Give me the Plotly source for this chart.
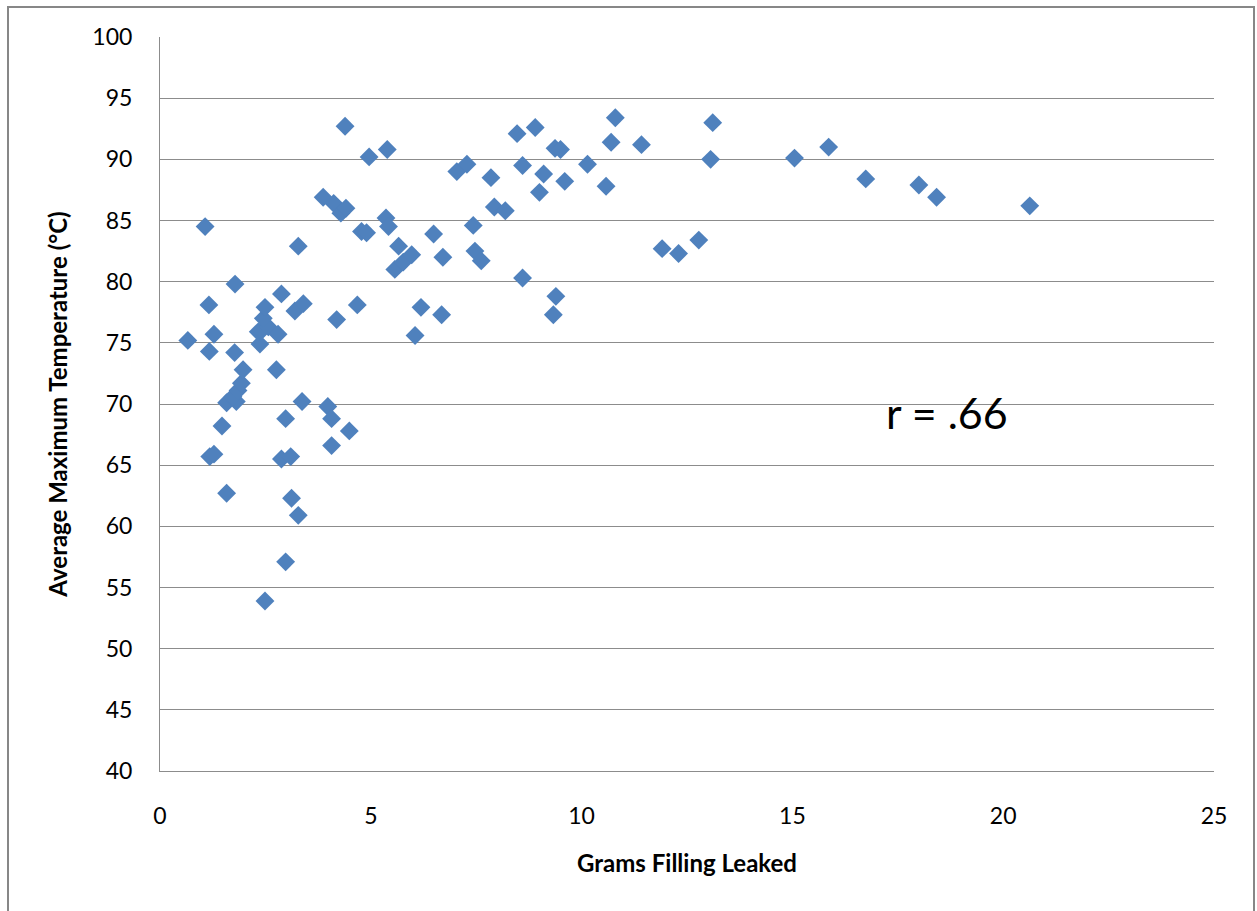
import plotly.graph_objects as go

# Grams of filling leaked vs. average maximum temperature (°C)
grams_leaked = [
    0.66, 1.07, 1.16, 1.28, 1.17, 1.18, 1.28, 1.47, 1.58, 1.58,
    1.78, 1.77, 1.81, 1.73, 1.85, 1.93, 1.97, 2.37, 2.33, 2.41,
    2.57, 2.45, 2.49, 2.49, 2.76, 2.80, 2.88, 2.88, 2.98, 2.98,
    3.10, 3.12, 3.28, 3.20, 3.40, 3.28, 3.37, 3.87, 3.98, 4.07,
    4.07, 4.12, 4.29, 4.41, 4.19, 4.39, 4.49, 4.68, 4.78, 4.90,
    4.96, 5.36, 5.42, 5.39, 5.57, 5.66, 5.77, 5.97, 6.05, 6.19,
    6.49, 6.68, 6.71, 7.04, 7.28, 7.43, 7.47, 7.62, 7.85, 7.93,
    8.19, 8.47, 8.60, 8.60, 8.90, 9.00, 9.10, 9.33, 9.37, 9.39,
    9.50, 9.60, 10.14, 10.58, 10.70, 10.80, 11.42, 11.91, 12.30, 12.78,
    13.06, 13.11, 15.05, 15.86, 16.74, 18.00, 18.42, 20.63,
]
avg_max_temp = [
    75.2, 84.5, 78.1, 75.7, 74.3, 65.7, 65.9, 68.2, 62.7, 70.1,
    79.8, 74.2, 70.2, 70.6, 71.1, 71.7, 72.8, 74.9, 75.9, 76.0,
    76.3, 77.0, 77.9, 53.9, 72.8, 75.7, 79.0, 65.5, 68.8, 57.1,
    65.7, 62.3, 60.9, 77.6, 78.2, 82.9, 70.2, 86.9, 69.8, 68.8,
    66.6, 86.4, 85.6, 86.0, 76.9, 92.7, 67.8, 78.1, 84.1, 84.0,
    90.2, 85.2, 84.5, 90.8, 81.0, 82.9, 81.6, 82.2, 75.6, 77.9,
    83.9, 77.3, 82.0, 89.0, 89.6, 84.6, 82.5, 81.7, 88.5, 86.1,
    85.8, 92.1, 89.5, 80.3, 92.6, 87.3, 88.8, 77.3, 90.9, 78.8,
    90.8, 88.2, 89.6, 87.8, 91.4, 93.4, 91.2, 82.7, 82.3, 83.4,
    90.0, 93.0, 90.1, 91.0, 88.4, 87.9, 86.9, 86.2,
]

x_ticks = [0, 5, 10, 15, 20, 25]
y_ticks = [40, 45, 50, 55, 60, 65, 70, 75, 80, 85, 90, 95, 100]
r_label = "r = .66"

FONT = "Lato, Calibri, 'Open Sans', sans-serif"
GRID = "#8c8c8c"

fig = go.Figure()
fig.add_trace(go.Scatter(
    x=grams_leaked,
    y=avg_max_temp,
    mode="markers",
    marker=dict(symbol="diamond", size=14.5, color="#4F81BD", line=dict(width=0)),
    showlegend=False,
))

fig.add_annotation(
    x=18.66, y=69.3, xref="x", yref="y",
    text=r_label, showarrow=False,
    font=dict(family=FONT, size=43, color="#000000"),
)

# outer chart border
fig.add_shape(
    type="rect", xref="paper", yref="paper",
    x0=(8 - 160) / 1054, x1=(1254 - 160) / 1054,
    y0=(771 - 915) / 734, y1=1 + (37 - 7) / 734,
    line=dict(color="#878787", width=2), fillcolor="rgba(0,0,0,0)",
    layer="below",
)

fig.update_layout(
    width=1257, height=911,
    margin=dict(l=160, r=43, t=37, b=140),
    paper_bgcolor="white", plot_bgcolor="white",
    font=dict(family=FONT, color="#000000"),
    xaxis=dict(
        range=[0, 25], tickvals=x_ticks, ticktext=[str(v) for v in x_ticks],
        showgrid=False, zeroline=False,
        showline=True, linecolor=GRID, linewidth=1,
        ticks="", ticklabelstandoff=24,
        tickfont=dict(family=FONT, size=23, color="#000000"),
        title=dict(text="<b>Grams Filling Leaked</b>", standoff=27,
                   font=dict(family=FONT, size=24, color="#000000")),
    ),
    yaxis=dict(
        range=[40, 100], tickvals=y_ticks, ticktext=[str(v) for v in y_ticks],
        showgrid=True, gridcolor=GRID, gridwidth=1, zeroline=False,
        showline=True, linecolor=GRID, linewidth=1,
        ticks="", ticklabelstandoff=22,
        tickfont=dict(family=FONT, size=23, color="#000000"),
        title=dict(text="<b>Average Maximum Temperature (°C)</b>", standoff=17,
                   font=dict(family=FONT, size=24, color="#000000")),
    ),
)

fig.write_html("out.html")
